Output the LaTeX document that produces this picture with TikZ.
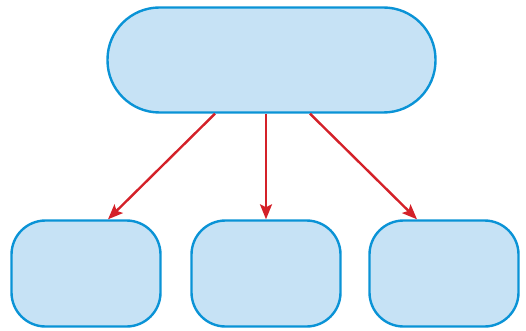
\documentclass[tikz,border=0pt]{standalone}
\usetikzlibrary{arrows.meta}
\definecolor{boxfill}{HTML}{C6E2F5}
\definecolor{boxline}{HTML}{0A93D6}
\definecolor{arrowred}{HTML}{D42129}
\begin{document}
\begin{tikzpicture}[x=1pt,y=-1pt,
  topbox/.style={draw=boxline,fill=boxfill,line width=2.4pt,minimum width=328pt,minimum height=105pt,rounded corners=52pt,inner sep=0pt},
  leafbox/.style={draw=boxline,fill=boxfill,line width=2.4pt,minimum width=149pt,minimum height=106pt,rounded corners=34pt,inner sep=0pt},
  link/.style={draw=arrowred,line width=2.4pt,-{Stealth[length=15pt,width=12pt,inset=3pt]}}]
\useasboundingbox (0,0) rectangle (526,331);
\node[topbox] (top) at (271.5,60) {};
\node[leafbox] (l) at (86,273.5) {};
\node[leafbox] (m) at (266,273.5) {};
\node[leafbox] (r) at (444,273.5) {};
\draw[link] ([xshift=-56.5pt]top.south) -- ([xshift=22pt]l.north);
\draw[link] ([xshift=-5.5pt]top.south) -- (m.north);
\draw[link] ([xshift=38.5pt]top.south) -- ([xshift=-27pt]r.north);
\end{tikzpicture}
\end{document}
